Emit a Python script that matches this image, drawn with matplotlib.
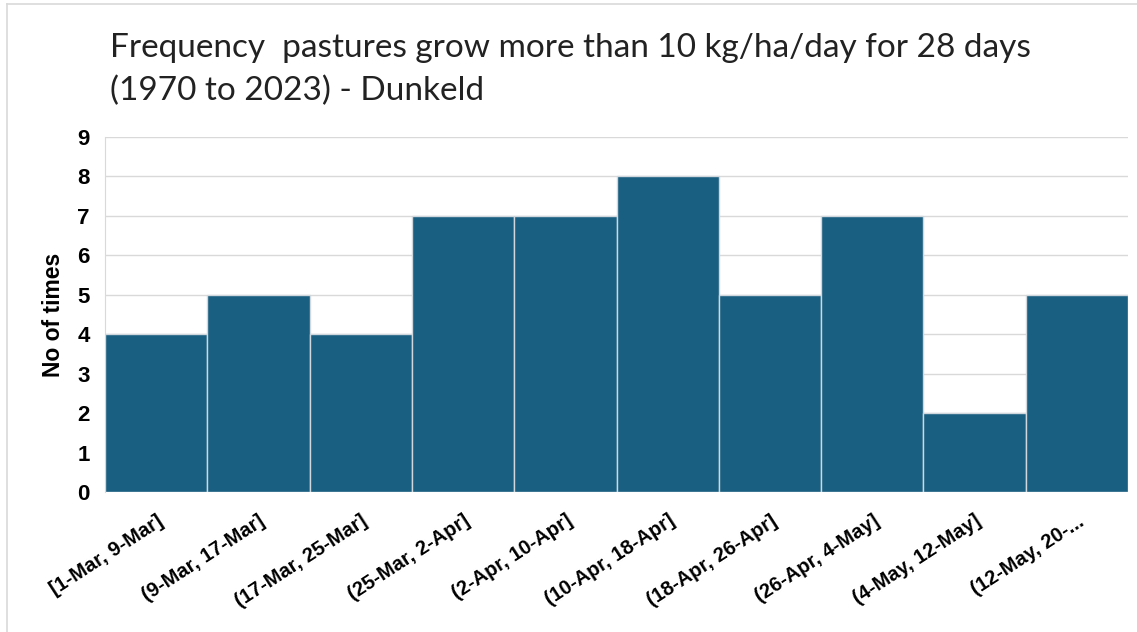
import matplotlib
matplotlib.use('Agg')
import matplotlib.pyplot as plt
from matplotlib.lines import Line2D

# 資料
bins = ['[1-Mar, 9-Mar]', '(9-Mar, 17-Mar]', '(17-Mar, 25-Mar]', '(25-Mar, 2-Apr]',
        '(2-Apr, 10-Apr]', '(10-Apr, 18-Apr]', '(18-Apr, 26-Apr]', '(26-Apr, 4-May]',
        '(4-May, 12-May]', '(12-May, 20-...']
counts = [4, 5, 4, 7, 7, 8, 5, 7, 2, 5]
y_ticks = list(range(0, 10))

W, H = 1137, 632
fig = plt.figure(figsize=(W / 100, H / 100), dpi=100)
ax = fig.add_axes([105 / W, 1 - 492 / H, (1128 - 105) / W, (492 - 137) / H])

x = list(range(len(bins)))
ax.bar(x, counts, width=1.0, color='#185F82', edgecolor='#D0D7DD', linewidth=1.0, zorder=3)

ax.set_xlim(-0.5, len(bins) - 0.5)
ax.set_ylim(0, 9)
ax.set_yticks(y_ticks)
ax.set_yticklabels([str(v) for v in y_ticks], fontsize=16, fontweight='bold',
                   family='Liberation Sans')
ax.set_xticks(x)
ax.set_xticklabels(bins, rotation=33, ha='right', rotation_mode='anchor',
                   fontsize=14.5, fontweight='bold', family='Liberation Sans')
ax.tick_params(length=0)
ax.tick_params(axis='y', pad=11)
ax.tick_params(axis='x', pad=14)

ax.grid(axis='y', color='#D9D9D9', linewidth=1.0, zorder=0)
for s in ['top', 'right', 'bottom']:
    ax.spines[s].set_visible(False)
ax.spines['left'].set_color('#D9D9D9')

ax.set_ylabel('No of times', fontsize=16.5, fontweight='bold', family='Liberation Sans',
              labelpad=9)

fig.text(110 / W, 1 - 57 / H, 'Frequency  pastures grow more than 10 kg/ha/day for 28 days',
         fontsize=24, family='Lato', color='#222222', va='baseline')
fig.text(110 / W, 1 - 100 / H, '(1970 to 2023) - Dunkeld',
         fontsize=24, family='Lato', color='#222222', va='baseline')

# 外框
fig.add_artist(Line2D([7 / W, 1], [1 - 4 / H, 1 - 4 / H], color='#D9D9D9', linewidth=1.2))
fig.add_artist(Line2D([7 / W, 7 / W], [0, 1 - 4 / H], color='#D9D9D9', linewidth=1.2))

fig.savefig('out.png', dpi=100)
